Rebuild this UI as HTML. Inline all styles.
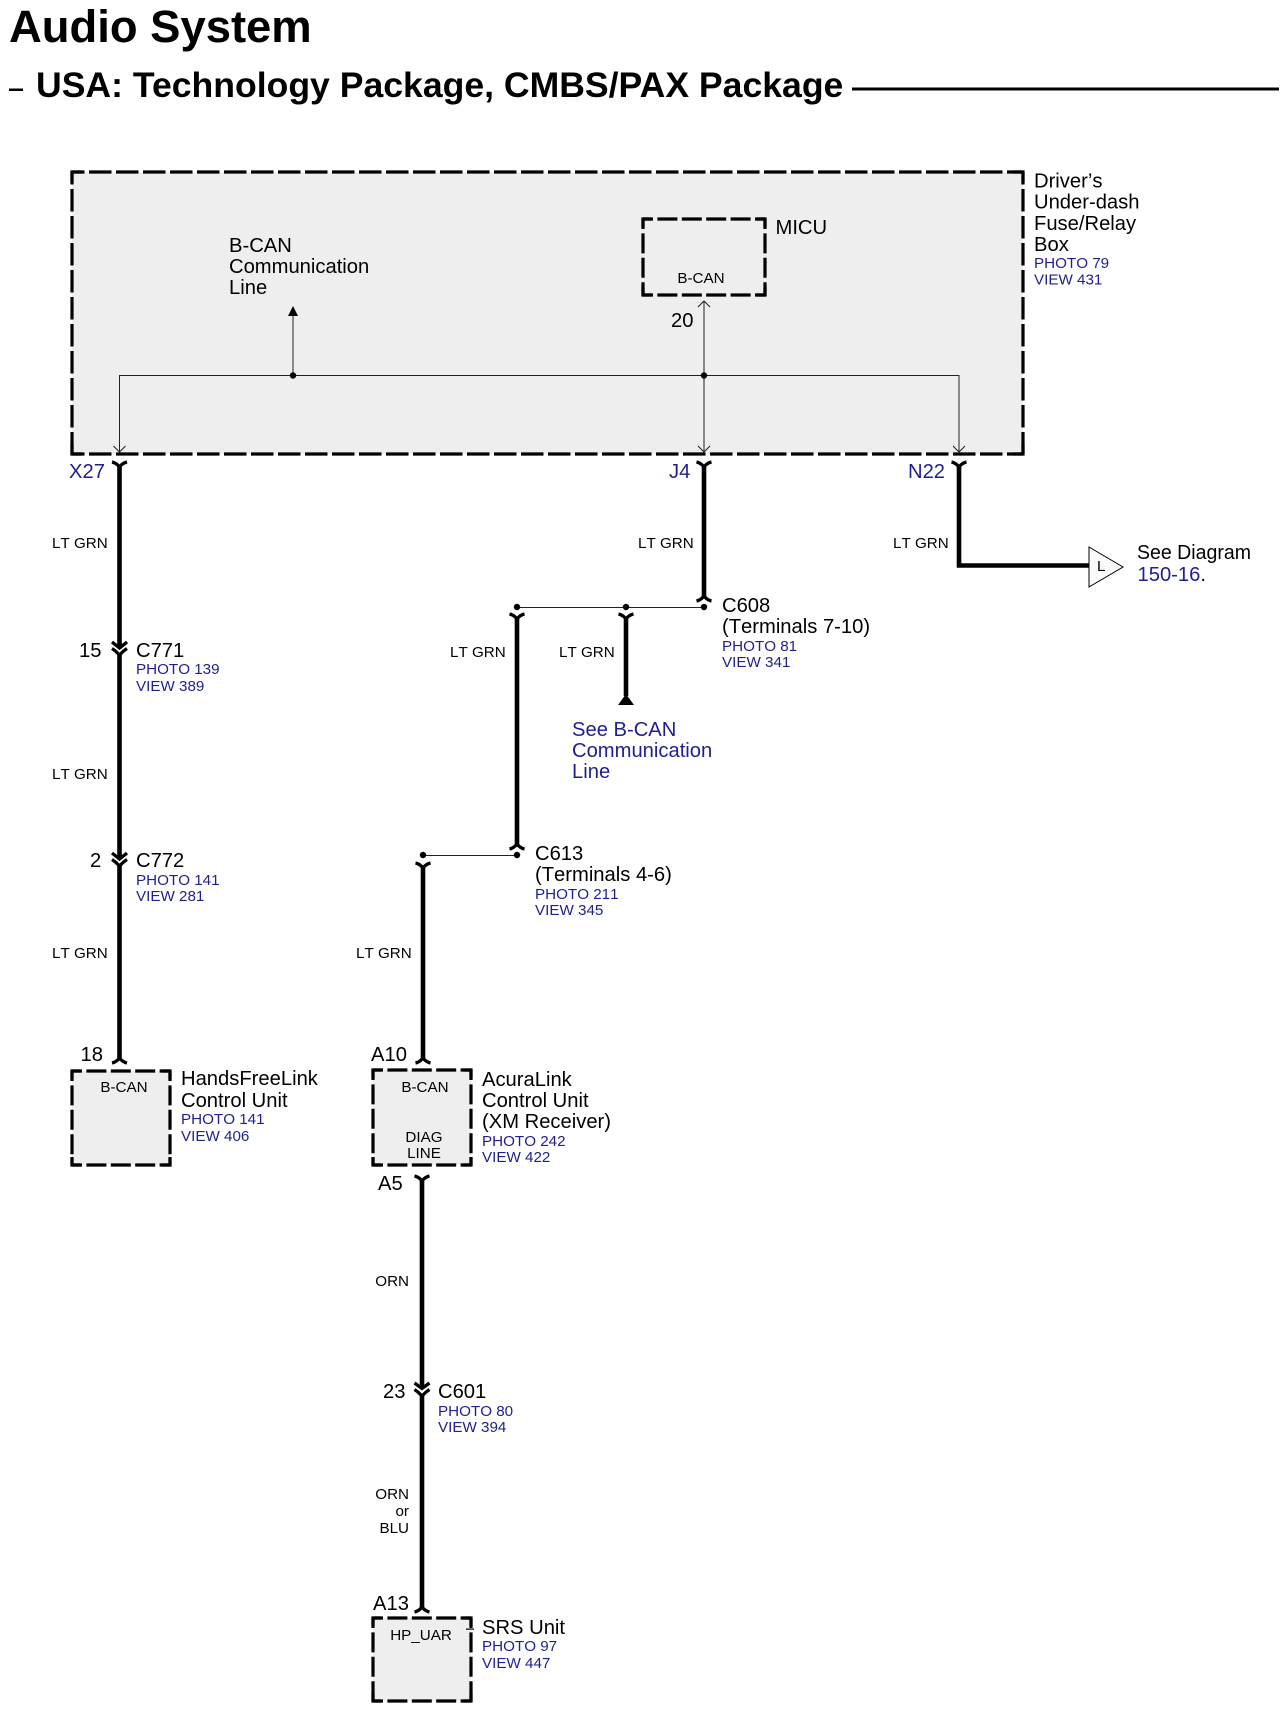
<!DOCTYPE html>
<html><head><meta charset="utf-8"><title>Audio System</title>
<style>
html,body{margin:0;padding:0;background:#fff}
svg{display:block}
text{font-family:"Liberation Sans",sans-serif;fill:#000;font-kerning:none}
.t{font-size:20.2px}
.s{font-size:15.2px}
.b{fill:#1f1f8f}
.m{text-anchor:middle}
.e{text-anchor:end}
.w{fill:none;stroke:#000;stroke-width:4.6}
.f{fill:none;stroke:#000;stroke-width:3.3}
.n{fill:none;stroke:#222;stroke-width:1}
.d1{fill:none;stroke:#000;stroke-width:3.2;stroke-dasharray:22.500 4.500;stroke-dashoffset:10}
.d2{fill:none;stroke:#000;stroke-width:3.2;stroke-dasharray:20 4.400;stroke-dashoffset:10}
.c{fill:none;stroke:#000;stroke-width:3.2}
</style></head><body>
<svg xmlns="http://www.w3.org/2000/svg" width="1286" height="1710" viewBox="0 0 1286 1710">
<rect width="1286" height="1710" fill="#fff"/>
<text x="9" y="42" font-size="45.4" font-weight="700" style="font-kerning:normal">Audio System</text>
<text x="36" y="97" font-size="35.6" font-weight="700" style="font-kerning:normal">USA: Technology Package, CMBS/PAX Package</text>
<rect x="9" y="88.500" width="14" height="2.500" fill="#000"/>
<rect x="852" y="87.500" width="427" height="3" fill="#000"/>

<!-- main box -->
<rect x="72" y="172" width="951" height="282" fill="#eee"/>
<path class="d1" d="M72 172H1023M72 454H1023M72 172V454M1023 172V454"/>
<path class="c" d="M72 182V172H82M1013 172H1023V182M72 444V454H82M1013 454H1023V444"/>
<!-- MICU box -->
<rect x="643" y="219" width="122" height="76" fill="#eee"/>
<path class="d2" d="M643 219H765M643 295H765M643 219V295M765 219V295"/>
<path class="c" d="M643 227V219H651M757 219H765V227M643 287V295H651M757 295H765V287"/>
<!-- HandsFreeLink box -->
<rect x="72" y="1071" width="98" height="94" fill="#eee"/>
<path class="d2" d="M72 1071H170M72 1165H170M72 1071V1165M170 1071V1165"/>
<path class="c" d="M72 1079V1071H80M162 1071H170V1079M72 1157V1165H80M162 1165H170V1157"/>
<!-- AcuraLink box -->
<rect x="373" y="1070" width="98" height="95" fill="#eee"/>
<path class="d2" d="M373 1070H471M373 1165H471M373 1070V1165M471 1070V1165"/>
<path class="c" d="M373 1078V1070H381M463 1070H471V1078M373 1157V1165H381M463 1165H471V1157"/>
<!-- SRS box -->
<rect x="373" y="1618" width="98" height="83" fill="#eee"/>
<path class="d2" d="M373 1618H471M373 1701H471M373 1618V1701M471 1618V1701"/>
<path class="c" d="M373 1626V1618H381M463 1618H471V1626M373 1693V1701H381M463 1701H471V1693"/>

<!-- thin internal lines -->
<path class="n" d="M119.500 452V375.500H959V452M293 375.500V314M704 452V302"/>
<path class="n" d="M113.500 446L119.500 452L125.500 446M698 446L704 452L710 446M953 446L959 452L965 446M698 307L704 301L710 307"/>
<circle cx="293" cy="375.500" r="3.200"/><circle cx="704" cy="375.500" r="3.200"/>
<path d="M293 306L298 316H288Z"/>

<!-- thin wires at connectors -->
<path class="n" d="M517 607.500H704M423 855.500H517"/>
<circle cx="704" cy="607" r="3.200"/><circle cx="626" cy="607" r="3.200"/><circle cx="517" cy="607" r="3.200"/>
<circle cx="517" cy="855" r="3.200"/><circle cx="423" cy="855" r="3.200"/>

<!-- thick wires -->
<path class="w" d="M119.500 466V646M119.500 653V857M119.500 864V1060"/>
<path class="w" d="M704 466V597"/>
<path class="w" d="M959 466V565.500H1090"/>
<path class="w" d="M517 619V845"/>
<path class="w" d="M626 619V696"/>
<path class="w" d="M423 867V1059"/>
<path class="w" d="M422 1180V1387M422 1394V1608"/>

<!-- forks -->
<path class="f" d="M112 462Q116.500 463 119.500 467Q122.500 463 127 462"/>
<path class="f" d="M696.500 462Q701 463 704 467Q707 463 711.500 462"/>
<path class="f" d="M951.500 462Q956 463 959 467Q962 463 966.500 462"/>
<path class="f" d="M112 642L119.500 648L127 642"/>
<path class="f" d="M112 648.500Q116 651 119.500 655Q123 651 127 648.500"/>
<path class="f" d="M112 853L119.500 859L127 853"/>
<path class="f" d="M112 859.500Q116 862 119.500 866Q123 862 127 859.500"/>
<path class="f" d="M112 1063Q116.500 1062 119.500 1058Q122.500 1062 127 1063"/>
<path class="f" d="M696.500 601Q701 600 704 596Q707 600 711.500 601"/>
<path class="f" d="M509.500 614Q514 615 517 619Q520 615 524.500 614"/>
<path class="f" d="M618.500 614Q623 615 626 619Q629 615 633.500 614"/>
<path class="f" d="M509.500 849Q514 848 517 844Q520 848 524.500 849"/>
<path class="f" d="M415.500 863Q420 864 423 868Q426 864 430.500 863"/>
<path class="f" d="M415.500 1063Q420 1062 423 1058Q426 1062 430.500 1063"/>
<path class="f" d="M414.500 1176Q419 1177 422 1181Q425 1177 429.500 1176"/>
<path class="f" d="M414.500 1383L422 1388.500L429.500 1383"/>
<path class="f" d="M414.500 1389.500Q418.500 1392 422 1396Q425.500 1392 429.500 1389.500"/>
<path class="f" d="M414.500 1612Q419 1611 422 1607Q425 1611 429.500 1612"/>

<path d="M626 694L634 705H618Z"/>
<path d="M1089 547L1123 567L1089 587Z" fill="#fafafa" stroke="#000" stroke-width="1"/>
<rect x="466" y="1628.500" width="8" height="1.200" fill="#000"/>

<!-- main box labels -->
<text class="t" x="229" y="252">B-CAN</text>
<text class="t" x="229" y="273">Communication</text>
<text class="t" x="229" y="294">Line</text>
<text class="t" x="775.500" y="234">MICU</text>
<text class="s m" x="701" y="283">B-CAN</text>
<text class="t" x="671" y="327">20</text>
<text class="t" x="1034" y="187.500">Driver’s</text>
<text class="t" x="1034" y="208.500">Under-dash</text>
<text class="t" x="1034" y="230">Fuse/Relay</text>
<text class="t" x="1034" y="251">Box</text>
<text class="s b" x="1034" y="268">PHOTO 79</text>
<text class="s b" x="1034" y="284.500">VIEW 431</text>

<text class="t b" x="69" y="478">X27</text>
<text class="t b" x="669" y="478">J4</text>
<text class="t b" x="908" y="478">N22</text>

<text class="s" x="52" y="548">LT GRN</text>
<text class="s" x="638" y="548">LT GRN</text>
<text class="s" x="893" y="548">LT GRN</text>
<text class="s" x="450" y="657">LT GRN</text>
<text class="s" x="559" y="657">LT GRN</text>
<text class="s" x="52" y="779">LT GRN</text>
<text class="s" x="52" y="958">LT GRN</text>
<text class="s" x="356" y="958">LT GRN</text>

<text class="s" x="1097" y="571">L</text>
<text class="t" x="1137" y="559" textLength="114" lengthAdjust="spacingAndGlyphs">See Diagram</text>
<text class="t b" x="1137.500" y="581">150-16<tspan fill="#000">.</tspan></text>

<text class="t" x="79" y="657">15</text>
<text class="t" x="136" y="657">C771</text>
<text class="s b" x="136" y="674">PHOTO 139</text>
<text class="s b" x="136" y="691">VIEW 389</text>

<text class="t" x="90" y="867">2</text>
<text class="t" x="136" y="867">C772</text>
<text class="s b" x="136" y="885">PHOTO 141</text>
<text class="s b" x="136" y="901">VIEW 281</text>

<text class="t" x="722" y="612">C608</text>
<text class="t" x="722" y="633">(Terminals 7-10)</text>
<text class="s b" x="722" y="651">PHOTO 81</text>
<text class="s b" x="722" y="667">VIEW 341</text>

<text class="t b" x="572" y="736">See B-CAN</text>
<text class="t b" x="572" y="757">Communication</text>
<text class="t b" x="572" y="778">Line</text>

<text class="t" x="535" y="860">C613</text>
<text class="t" x="535" y="881">(Terminals 4-6)</text>
<text class="s b" x="535" y="899">PHOTO 211</text>
<text class="s b" x="535" y="915">VIEW 345</text>

<text class="t" x="80.500" y="1061">18</text>
<text class="s m" x="124" y="1092">B-CAN</text>
<text class="t" x="181" y="1085">HandsFreeLink</text>
<text class="t" x="181" y="1107">Control Unit</text>
<text class="s b" x="181" y="1124">PHOTO 141</text>
<text class="s b" x="181" y="1141">VIEW 406</text>

<text class="t" x="371" y="1061">A10</text>
<text class="s m" x="425" y="1092">B-CAN</text>
<text class="s m" x="424" y="1142">DIAG</text>
<text class="s m" x="424" y="1158">LINE</text>
<text class="t" x="482" y="1086">AcuraLink</text>
<text class="t" x="482" y="1107">Control Unit</text>
<text class="t" x="482" y="1128">(XM Receiver)</text>
<text class="s b" x="482" y="1146">PHOTO 242</text>
<text class="s b" x="482" y="1162">VIEW 422</text>

<text class="t" x="378" y="1190">A5</text>
<text class="s e" x="409" y="1286">ORN</text>
<text class="t" x="383" y="1398">23</text>
<text class="t" x="438" y="1398">C601</text>
<text class="s b" x="438" y="1416">PHOTO 80</text>
<text class="s b" x="438" y="1432">VIEW 394</text>
<text class="s e" x="409" y="1499">ORN</text>
<text class="s e" x="409" y="1516">or</text>
<text class="s e" x="409" y="1533">BLU</text>

<text class="t" x="373" y="1610">A13</text>
<text class="s m" x="421" y="1640">HP_UAR</text>
<text class="t" x="482" y="1634">SRS Unit</text>
<text class="s b" x="482" y="1651">PHOTO 97</text>
<text class="s b" x="482" y="1668">VIEW 447</text>
</svg>
</body></html>
